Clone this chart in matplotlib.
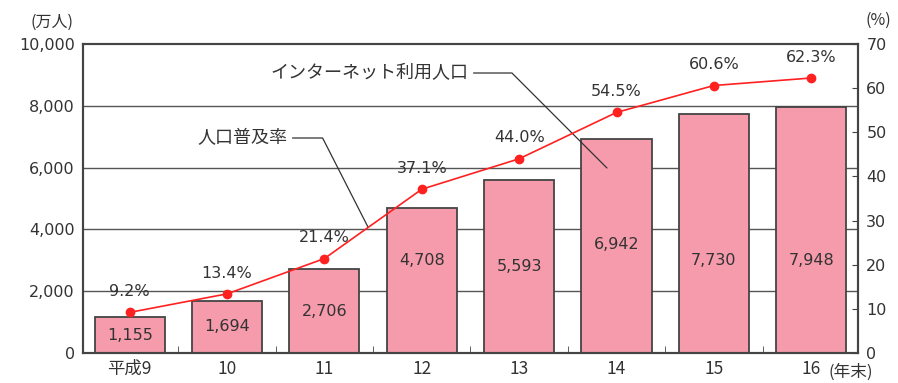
import matplotlib.pyplot as plt

plt.rcParams['font.family'] = ['DejaVu Sans', 'Noto Sans CJK JP']
jp = ['Noto Sans CJK JP', 'DejaVu Sans']

years = ["平成9", "10", "11", "12", "13", "14", "15", "16"]
users = [1155, 1694, 2706, 4708, 5593, 6942, 7730, 7948]      # 万人
rate = [9.2, 13.4, 21.4, 37.1, 44.0, 54.5, 60.6, 62.3]         # %

# height (in 万人) where each bar's value is written
label_y = [580, 850, 1350, 3000, 2800, 3500, 3000, 3000]

text_c = '#333333'
x = list(range(len(years)))

fig = plt.figure(figsize=(8.98, 3.83), dpi=100)
ax = fig.add_axes([0.0924, 0.0783, 0.8630, 0.8068])
ax2 = ax.twinx()

for v in [2000, 4000, 6000, 8000]:
    ax.axhline(v, color='#555555', lw=1.0, zorder=0)

ax.bar(x, users, width=0.72, color='#f59bab', edgecolor='#444444', linewidth=1.3, zorder=2)
for xi, v, ly in zip(x, users, label_y):
    ax.text(xi, ly, "{:,}".format(v), ha='center', va='center', fontsize=11.5, color=text_c, zorder=3)

ax.set_xlim(-0.48, 7.48)
ax.set_ylim(0, 10000)
ax.set_yticks(range(0, 10001, 2000))
ax.set_yticklabels(["{:,}".format(v) for v in range(0, 10001, 2000)], fontsize=11.5, color=text_c)
ax.tick_params(axis='y', length=0, pad=6)
ax.set_xticks(x)
ax.set_xticklabels(years, fontsize=12.5, color=text_c, family=jp)
ax.set_xticks([i + 0.5 for i in range(7)], minor=True)
ax.tick_params(axis='x', which='major', length=0, pad=5)
ax.tick_params(axis='x', which='minor', direction='in', length=5, color='#444444')

ax2.plot(x, rate, color='#ff2020', lw=1.2, marker='o', markersize=6, zorder=4)
for xi, r in zip(x, rate):
    ax2.annotate("{:.1f}%".format(r), (xi, r), xytext=(0, 15), textcoords='offset points',
                 ha='center', va='center', fontsize=11.5, color=text_c)
ax2.set_ylim(0, 70)
ax2.set_yticks(range(0, 71, 10))
ax2.tick_params(axis='y', direction='in', length=4, pad=6, labelsize=11.5, labelcolor=text_c, color='#444444')

ax.set_zorder(ax2.get_zorder() - 1)
ax2.patch.set_visible(False)
ax.patch.set_visible(False)

for a in (ax, ax2):
    for s in a.spines.values():
        s.set_color('#444444')
        s.set_linewidth(1.5)

fig.text(52 / 898, 1 - 22 / 383, "(万人)", ha='center', va='center', fontsize=11.5, color=text_c, family=jp)
fig.text(878 / 898, 1 - 20 / 383, "(%)", ha='center', va='center', fontsize=11.5, color=text_c, family=jp)
fig.text(851 / 898, 1 - 372 / 383, "(年末)", ha='center', va='center', fontsize=12, color=text_c, family=jp)

# callouts with bent leader lines (axes fraction coordinates)
def frac(px, py):
    return ((px - 83) / 775, (353 - py) / 309)

ax.annotate("インターネット利用人口", xy=frac(607, 168), xytext=frac(468, 73),
            xycoords='axes fraction', textcoords='axes fraction',
            ha='right', va='center', fontsize=13, color=text_c, family=jp,
            arrowprops=dict(arrowstyle='-', color='#333333', lw=0.9,
                            connectionstyle='angle,angleA=0,angleB=-45,rad=0',
                            shrinkA=2, shrinkB=0))
ax.annotate("人口普及率", xy=frac(368, 227), xytext=frac(287, 138),
            xycoords='axes fraction', textcoords='axes fraction',
            ha='right', va='center', fontsize=13, color=text_c, family=jp,
            arrowprops=dict(arrowstyle='-', color='#333333', lw=0.9,
                            connectionstyle='angle,angleA=0,angleB=-63,rad=0',
                            shrinkA=2, shrinkB=0))

fig.savefig("out.png", dpi=100)
